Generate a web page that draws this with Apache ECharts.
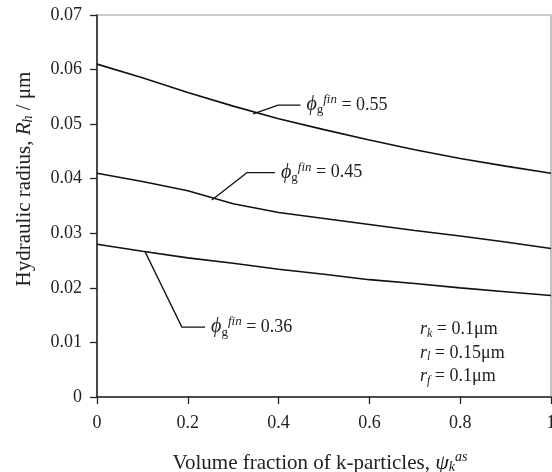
<!DOCTYPE html>
<html>
<head>
<meta charset="utf-8">
<title>Hydraulic radius</title>
<script src="https://cdn.jsdelivr.net/npm/echarts@6/dist/echarts.min.js"></script>
<style>
  html, body { margin: 0; padding: 0; background: #fff; }
  #main { width: 552px; height: 472px; }
</style>
</head>
<body>
<div id="main"></div>
<script>
// volume fraction of k-particles
var psi = [0, 0.1, 0.2, 0.3, 0.4, 0.5, 0.6, 0.7, 0.8, 0.9, 1.0];
// hydraulic radius (um) for each final packing fraction
var rh055 = [0.0610, 0.0585, 0.0558, 0.0533, 0.0510, 0.0490, 0.0471, 0.0453, 0.0437, 0.0423, 0.0410];
var rh045 = [0.0410, 0.0395, 0.0378, 0.0354, 0.0338, 0.0327, 0.0316, 0.0305, 0.0295, 0.0284, 0.0272];
var rh036 = [0.0280, 0.0267, 0.0255, 0.0245, 0.0234, 0.0225, 0.0215, 0.0208, 0.0200, 0.0193, 0.0186];

// leader lines for the labels: [x, y] in data units
var lead055 = [[0.344, 0.0519], [0.399, 0.0535], [0.448, 0.0535]];
var lead045 = [[0.253, 0.0361], [0.330, 0.0411], [0.392, 0.0411]];
var lead036 = [[0.106, 0.0266], [0.187, 0.0128], [0.238, 0.0128]];
var leadText = ['0.55', '0.45', '0.36'];

var serif = 'Liberation Serif';
var ink = '#222';
var myChart = echarts.init(document.getElementById('main'));

function pairs(xs, ys) {
    var out = [];
    for (var i = 0; i < xs.length; i++) out.push([xs[i], ys[i]]);
    return out;
}

var phiRich = {
    phi: { fontFamily: serif, fontSize: 20, fontStyle: 'italic', color: ink },
    sub: { fontFamily: serif, fontSize: 13, color: ink, padding: [10, 0, 0, 0] },
    sup: { fontFamily: serif, fontSize: 13, fontStyle: 'italic', color: ink, padding: [0, 0, 11, 0] },
    eq: { fontFamily: serif, fontSize: 18, color: ink }
};

function leader(pts, txt) {
    return {
        type: 'line',
        data: pts,
        symbol: 'none',
        silent: true,
        lineStyle: { color: '#111', width: 1.3 },
        endLabel: {
            show: true,
            distance: 6,
            formatter: '{phi|ϕ}{sub|g}{sup|fin}{eq| = ' + txt + '}',
            rich: phiRich
        },
        z: 3
    };
}

function curve(ys) {
    return {
        type: 'line',
        data: pairs(psi, ys),
        symbol: 'none',
        lineStyle: { color: '#111', width: 1.6 },
        z: 4
    };
}

var option = {
    animation: false,
    grid: {
        left: 97, right: 1, top: 15, bottom: 75,
        outerBoundsMode: 'none',
        containLabel: false,
        show: true, borderColor: '#9a9a9a', borderWidth: 1.2
    },
    xAxis: {
        type: 'value', min: 0, max: 1, interval: 0.2,
        name: 'Volume fraction of k-particles, {i|ψ}{sub|k}{sup|as}',
        nameLocation: 'middle', nameGap: 53,
        nameTextStyle: {
            fontFamily: serif, fontSize: 21, color: ink,
            padding: [0, 8, 0, 0],
            rich: {
                i: { fontFamily: serif, fontSize: 22, fontStyle: 'italic', color: ink },
                sub: { fontFamily: serif, fontSize: 14, fontStyle: 'italic', color: ink, padding: [9, 0, 0, 0] },
                sup: { fontFamily: serif, fontSize: 14, fontStyle: 'italic', color: ink, padding: [0, 0, 12, 0] }
            }
        },
        axisLine: { onZero: false, lineStyle: { color: ink, width: 1.5 } },
        axisTick: { show: true, inside: false, length: 7, lineStyle: { color: ink, width: 1.3 } },
        axisLabel: {
            fontFamily: serif, fontSize: 18, color: ink, margin: 17,
            formatter: function (v) { return String(+v.toFixed(1)); }
        },
        splitLine: { show: false }
    },
    yAxis: {
        type: 'value', min: 0, max: 0.07, interval: 0.01,
        name: 'Hydraulic radius, {i|R}{sub|h} / μm',
        nameLocation: 'middle', nameGap: 62, nameRotate: 90,
        nameTextStyle: {
            fontFamily: serif, fontSize: 21, color: ink,
            padding: [0, 0, 0, 54],
            rich: {
                i: { fontFamily: serif, fontSize: 21, fontStyle: 'italic', color: ink },
                sub: { fontFamily: serif, fontSize: 14, fontStyle: 'italic', color: ink, padding: [8, 0, 0, 0] }
            }
        },
        axisLine: { onZero: false, lineStyle: { color: ink, width: 1.5 } },
        axisTick: { show: true, inside: false, length: 7, lineStyle: { color: ink, width: 1.3 } },
        axisLabel: {
            fontFamily: serif, fontSize: 18, color: ink, margin: 15,
            formatter: function (v) { return v === 0 ? '0' : v.toFixed(2); }
        },
        splitLine: { show: false }
    },
    graphic: [{
        type: 'text',
        left: 420, top: 318,
        style: {
            text: '{r|r}{s|k}{t| = 0.1μm}\n{r|r}{s|l}{t| = 0.15μm}\n{r|r}{s|f}{t| = 0.1μm}',
            lineHeight: 23.5,
            rich: {
                r: { fontFamily: serif, fontSize: 18, fontStyle: 'italic', fill: ink, lineHeight: 23.5 },
                s: { fontFamily: serif, fontSize: 12, fontStyle: 'italic', fill: ink, padding: [8, 0, 0, 0], lineHeight: 23.5 },
                t: { fontFamily: serif, fontSize: 18, fill: ink, lineHeight: 23.5 }
            }
        }
    }],
    series: [
        curve(rh055), curve(rh045), curve(rh036),
        leader(lead055, leadText[0]),
        leader(lead045, leadText[1]),
        leader(lead036, leadText[2])
    ]
};

myChart.setOption(option);
</script>
</body>
</html>
